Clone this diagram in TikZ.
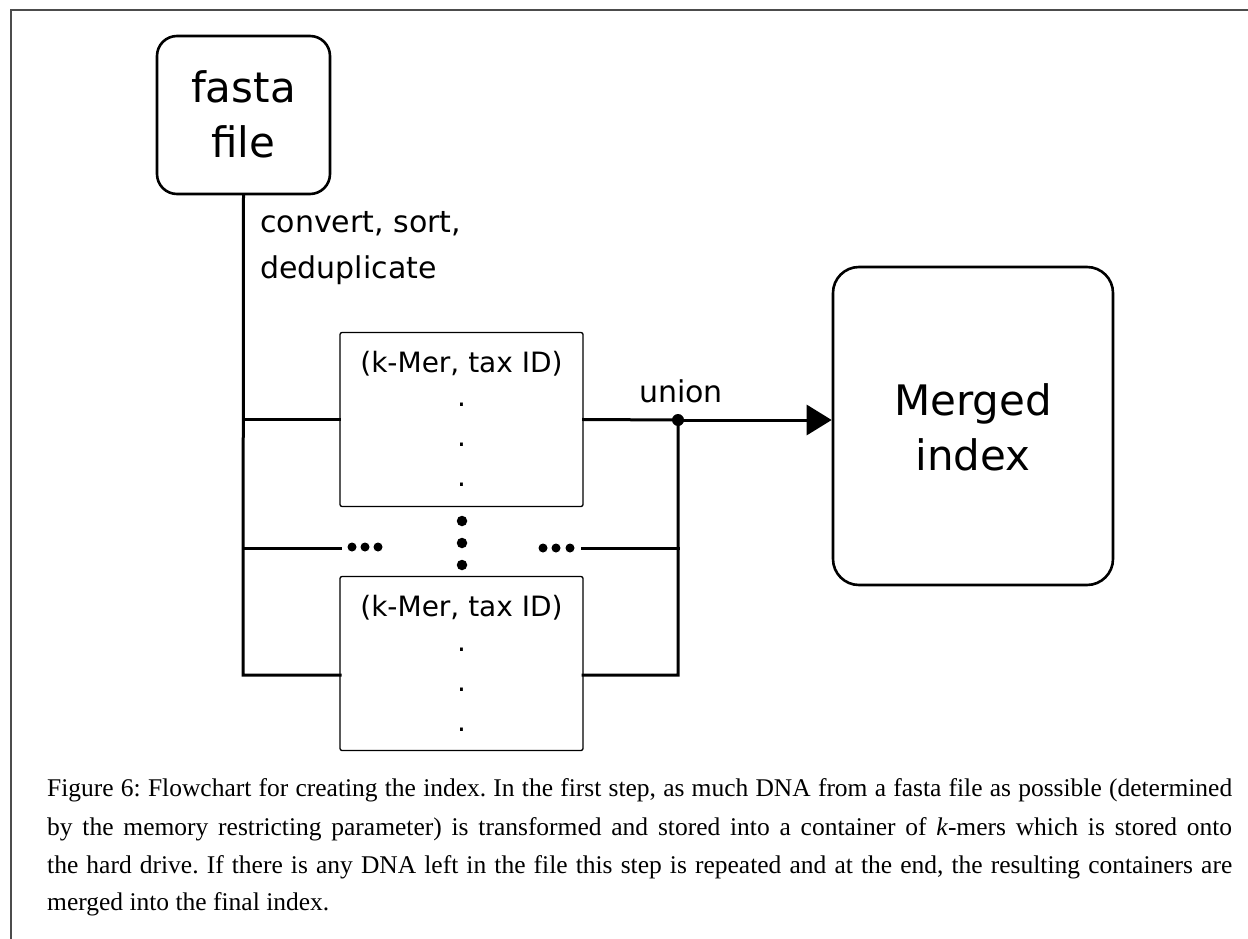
\documentclass[tikz,border=0pt]{standalone}
\usepackage{fontspec}
\setmainfont{Liberation Serif}
\newfontfamily\dvs{DejaVu Sans}
\usetikzlibrary{arrows.meta}
\tikzset{
  wire/.style={line width=3pt, line cap=rect},
  bigbox/.style={draw, line width=2.6pt, rounded corners=20pt, inner sep=0pt},
  listbox/.style={draw, line width=1.3pt, rounded corners=2pt, inner sep=0pt, minimum width=243pt, minimum height=174pt},
  bigtxt/.style={font=\dvs\fontsize{42}{50}\selectfont, anchor=base, inner sep=0pt},
  midtxt/.style={font=\dvs\fontsize{30}{36}\selectfont, inner sep=0pt},
  boxtxt/.style={font=\dvs\fontsize{28}{34}\selectfont, anchor=base, inner sep=0pt},
  bdot/.style={circle, fill, inner sep=0pt, minimum size=9pt},
  vdot/.style={circle, fill, inner sep=0pt, minimum size=10.5pt},
  captxt/.style={font=\fontsize{25.5}{30}\selectfont\frenchspacing, anchor=base west, inner sep=0pt},
}
\begin{document}
\begin{tikzpicture}[x=1pt,y=-1pt]
\useasboundingbox (0,0) rectangle (1248,939);
% frame
\draw[line width=1.5pt, black!70] (11,939) -- (11,10) -- (1248,10);

% boxes
\node[bigbox, minimum width=173pt, minimum height=158pt] (fasta) at (243.5,115) {};
\node[bigtxt] (fastaA) at (243.5,103) {fasta};
\node[bigtxt] (fastaB) at (243.5,158) {file};

\node[bigbox, rounded corners=26pt, minimum width=280pt, minimum height=318pt] (merged) at (973,426) {};
\node[bigtxt] (mergedA) at (973,415) {Merged};
\node[bigtxt] (mergedB) at (973,470) {index};

\node[listbox] (box1) at (461.5,419.5) {};
\node[boxtxt] (k1) at (461.5,372) {(k-Mer, tax ID)};
\node[boxtxt] (d1a) at (461.5,406) {.};
\node[boxtxt] (d1b) at (461.5,446) {.};
\node[boxtxt] (d1c) at (461.5,486) {.};

\node[listbox] (box2) at (461.5,663.5) {};
\node[boxtxt] (k2) at (461.5,616) {(k-Mer, tax ID)};
\node[boxtxt] (d2a) at (461.5,651) {.};
\node[boxtxt] (d2b) at (461.5,691) {.};
\node[boxtxt] (d2c) at (461.5,731) {.};

% labels
\node[midtxt, anchor=base west] (conv) at (260,232) {convert, sort,};
\node[midtxt, anchor=base west] (dedup) at (260,278) {deduplicate};
\node[midtxt, anchor=base] (union) at (681,402) {union};

% coordinates
\coordinate (tb) at (243,675);
\coordinate (b2w) at (340,675);
\coordinate (b2e) at (583,675);
\coordinate (rb) at (678,675);
\coordinate (jn) at (678,420);
\coordinate (ml) at (243,548);
\coordinate (mle) at (340,548);
\coordinate (mrs) at (582,548);
\coordinate (mr) at (678,548);

% connectors
\draw[wire] (fasta.south) -- (tb) -- (b2w);
\draw[wire] (fasta.south |- box1.west) -- (box1.west);
\draw[wire] (ml) -- (mle);
\draw[wire] (box1.east) -- (jn) -- (rb) -- (b2e);
\draw[wire] (mrs) -- (mr);
\draw[line width=3pt, -{Triangle[length=25pt,width=30pt]}] (jn) -- (jn -| merged.west);
\node[circle, fill, inner sep=0pt, minimum size=12pt] (jdot) at (jn) {};

% ellipsis dots
\node[bdot] (l1) at (352,547) {};
\node[bdot] (l2) at (365,547) {};
\node[bdot] (l3) at (378,547) {};
\node[bdot] (r1) at (543,548) {};
\node[bdot] (r2) at (556,548) {};
\node[bdot] (r3) at (570,548) {};
\node[vdot] (v1) at (462,521) {};
\node[vdot] (v2) at (462,543) {};
\node[vdot] (v3) at (462,565) {};

% caption
\node[captxt] (c1) at (47,796) {\makebox[1185pt][s]{Figure 6: Flowchart for creating the index. In the first step, as much DNA from a fasta file as possible (determined}};
\node[captxt] (c2) at (47,835) {\makebox[1185pt][s]{by the memory restricting parameter) is transformed and stored into a container of \textit{k}-mers which is stored onto}};
\node[captxt] (c3) at (47,873) {\makebox[1185pt][s]{the hard drive. If there is any DNA left in the file this step is repeated and at the end, the resulting containers are}};
\node[captxt] (c4) at (47,910) {merged into the final index.};
\end{tikzpicture}
\end{document}
